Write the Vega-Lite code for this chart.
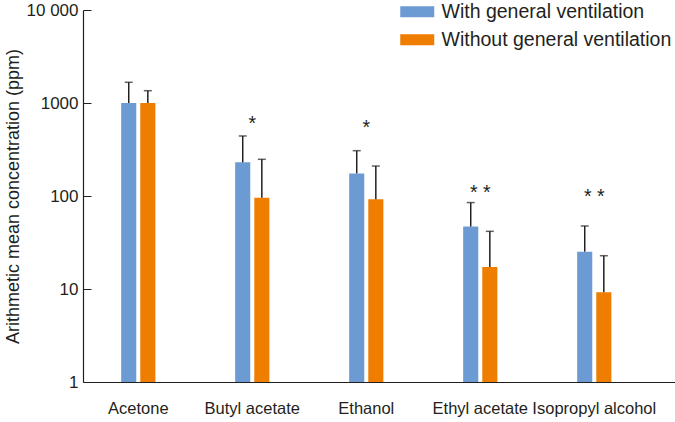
{
  "$schema": "https://vega.github.io/schema/vega-lite/v6.json",
  "width": 592,
  "height": 372,
  "autosize": {"type": "none"},
  "padding": {"left": 83, "top": 10, "right": 0, "bottom": 40},
  "background": "white",
  "config": {
    "view": {"stroke": null},
    "font": "Liberation Sans",
    "axis": {"labelFont": "Liberation Sans", "titleFont": "Liberation Sans", "labelColor": "#231f20", "titleColor": "#231f20", "domainColor": "#231f20", "tickColor": "#231f20", "labelFontSize": 16.5, "titleFontSize": 18, "titleFontWeight": "normal", "domainWidth": 1.2}
  },
  "datasets": {
    "bars": [
      {"chemical": "Acetone", "group": "With general ventilation", "value": 1000, "upper": 1670},
      {"chemical": "Acetone", "group": "Without general ventilation", "value": 1000, "upper": 1356},
      {"chemical": "Butyl acetate", "group": "With general ventilation", "value": 230, "upper": 442},
      {"chemical": "Butyl acetate", "group": "Without general ventilation", "value": 96, "upper": 248},
      {"chemical": "Ethanol", "group": "With general ventilation", "value": 175, "upper": 307},
      {"chemical": "Ethanol", "group": "Without general ventilation", "value": 92, "upper": 210},
      {"chemical": "Ethyl acetate", "group": "With general ventilation", "value": 47, "upper": 85},
      {"chemical": "Ethyl acetate", "group": "Without general ventilation", "value": 17.2, "upper": 41.7},
      {"chemical": "Isopropyl alcohol", "group": "With general ventilation", "value": 25.2, "upper": 47.6},
      {"chemical": "Isopropyl alcohol", "group": "Without general ventilation", "value": 9.2, "upper": 22.8}
    ],
    "stars": [
      {"chemical": "Butyl acetate", "star": "*", "level": 510},
      {"chemical": "Ethanol", "star": "*", "level": 460},
      {"chemical": "Ethyl acetate", "star": "* *", "level": 92},
      {"chemical": "Isopropyl alcohol", "star": "* *", "level": 84}
    ]
  },
  "layer": [
    {
      "data": {"name": "bars"},
      "mark": {"type": "bar"},
      "encoding": {
        "x": {"field": "chemical", "type": "nominal", "sort": ["Acetone", "Butyl acetate", "Ethanol", "Ethyl acetate", "Isopropyl alcohol"],
          "scale": {"paddingInner": 0.7, "paddingOuter": 0.4465, "align": 0.375},
          "axis": {"title": null, "labelAngle": 0, "ticks": false, "labelPadding": 18}},
        "xOffset": {"field": "group", "type": "nominal", "sort": ["With general ventilation", "Without general ventilation"], "scale": {"paddingInner": 0.21, "paddingOuter": 0}},
        "y": {"field": "value", "type": "quantitative", "title": "Arithmetic mean concentration (ppm)",
          "scale": {"type": "log", "domain": [1, 10000], "nice": false},
          "axis": {"values": [1, 10, 100, 1000, 10000], "labelExpr": "datum.value >= 10000 ? '10 000' : format(datum.value, 'd')", "labelFontSize": 17, "grid": false, "tickSize": -8, "labelPadding": 13, "titlePadding": 4}},
        "y2": {"datum": 1},
        "color": {"field": "group", "type": "nominal", "sort": ["With general ventilation", "Without general ventilation"],
          "scale": {"range": ["#6b9bd2", "#ef7d00"]},
          "legend": {"title": null, "orient": "none", "legendX": 324.5, "legendY": -8, "padding": 0,
            "symbolType": "M-2,-0.64H2V0.64H-2Z", "symbolSize": 289, "symbolStrokeWidth": 0, "symbolOpacity": 1,
            "labelFont": "Liberation Sans", "labelFontSize": 19.5, "labelColor": "#231f20", "labelOffset": 14.5, "rowPadding": 7, "labelLimit": 400}}
      }
    },
    {
      "data": {"name": "bars"},
      "mark": {"type": "rule", "color": "#231f20", "strokeWidth": 1.5},
      "encoding": {
        "x": {"field": "chemical", "type": "nominal", "sort": ["Acetone", "Butyl acetate", "Ethanol", "Ethyl acetate", "Isopropyl alcohol"]},
        "xOffset": {"field": "group", "type": "nominal", "sort": ["With general ventilation", "Without general ventilation"]},
        "y": {"field": "value", "type": "quantitative", "title": "Arithmetic mean concentration (ppm)"},
        "y2": {"field": "upper"}
      }
    },
    {
      "data": {"name": "bars"},
      "mark": {"type": "tick", "color": "#231f20", "thickness": 1.5, "size": 8},
      "encoding": {
        "x": {"field": "chemical", "type": "nominal", "sort": ["Acetone", "Butyl acetate", "Ethanol", "Ethyl acetate", "Isopropyl alcohol"]},
        "xOffset": {"field": "group", "type": "nominal", "sort": ["With general ventilation", "Without general ventilation"]},
        "y": {"field": "upper", "type": "quantitative", "title": "Arithmetic mean concentration (ppm)"}
      }
    },
    {
      "data": {"name": "stars"},
      "mark": {"type": "text", "color": "#231f20", "font": "Liberation Sans", "fontSize": 19.5, "baseline": "alphabetic", "align": "center"},
      "encoding": {
        "x": {"field": "chemical", "type": "nominal", "sort": ["Acetone", "Butyl acetate", "Ethanol", "Ethyl acetate", "Isopropyl alcohol"]},
        "y": {"field": "level", "type": "quantitative", "title": "Arithmetic mean concentration (ppm)"},
        "text": {"field": "star"}
      }
    }
  ]
}
